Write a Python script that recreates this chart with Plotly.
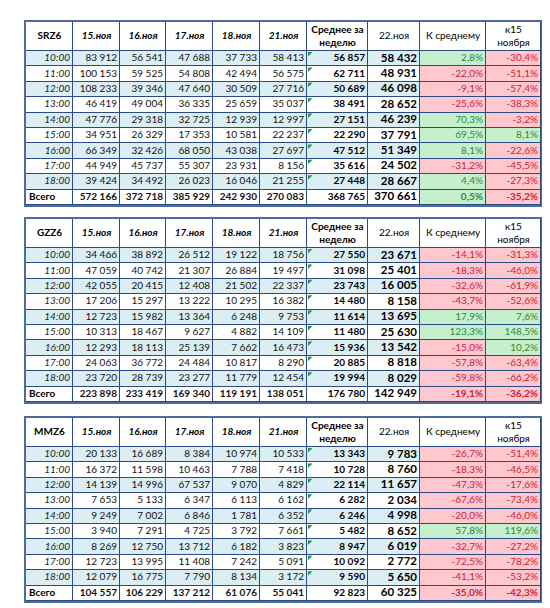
import plotly.graph_objects as go

# ---------------- data ----------------
hours = ["10:00", "11:00", "12:00", "13:00", "14:00", "15:00", "16:00", "17:00", "18:00"]
total_label = "Всего"
day_labels = ["15.ноя", "16.ноя", "17.ноя", "18.ноя", "21.ноя"]
avg_label = "Среднее за<br>неделю"
today_label = "22.ноя"
pct_labels = ["К среднему", "к15<br>ноября"]

tickers = ["SRZ6", "GZZ6", "MMZ6"]

srz6_days = [
    [83912, 100153, 108233, 46419, 47776, 34951, 66349, 44949, 39424, 572166],
    [56541, 59525, 39346, 49004, 29318, 26329, 32426, 45737, 34492, 372718],
    [47688, 54808, 47640, 36335, 32725, 17353, 68050, 55307, 26023, 385929],
    [37733, 42494, 30509, 25659, 12939, 10581, 43038, 23931, 16046, 242930],
    [58413, 56575, 27716, 35037, 12997, 22237, 27697, 8156, 21255, 270083],
]
srz6_avg = [56857, 62711, 50689, 38491, 27151, 22290, 47512, 35616, 27448, 368765]
srz6_today = [58432, 48931, 46098, 28652, 46239, 37791, 51349, 24502, 28667, 370661]
srz6_vs_avg = [2.8, -22.0, -9.1, -25.6, 70.3, 69.5, 8.1, -31.2, 4.4, 0.5]
srz6_vs_15 = [-30.4, -51.1, -57.4, -38.3, -3.2, 8.1, -22.6, -45.5, -27.3, -35.2]

gzz6_days = [
    [34466, 47059, 42055, 17206, 12723, 10313, 12293, 24063, 23720, 223898],
    [38892, 40742, 20415, 15297, 15982, 18467, 18113, 36772, 28739, 233419],
    [26512, 21307, 12408, 13222, 13364, 9627, 25139, 24484, 23277, 169340],
    [19122, 26884, 21502, 10295, 6248, 4882, 7662, 10817, 11779, 119191],
    [18756, 19497, 22337, 16382, 9753, 14109, 16473, 8290, 12454, 138051],
]
gzz6_avg = [27550, 31098, 23743, 14480, 11614, 11480, 15936, 20885, 19994, 176780]
gzz6_today = [23671, 25401, 16005, 8158, 13695, 25630, 13542, 8818, 8029, 142949]
gzz6_vs_avg = [-14.1, -18.3, -32.6, -43.7, 17.9, 123.3, -15.0, -57.8, -59.8, -19.1]
gzz6_vs_15 = [-31.3, -46.0, -61.9, -52.6, 7.6, 148.5, 10.2, -63.4, -66.2, -36.2]

mmz6_days = [
    [20133, 16372, 14139, 7653, 9249, 3940, 8269, 12723, 12079, 104557],
    [16689, 11598, 14996, 5133, 7002, 7291, 12750, 13995, 16775, 106229],
    [8384, 10463, 67537, 6347, 6846, 4725, 13712, 11408, 7790, 137212],
    [10974, 7788, 9070, 6113, 1781, 3792, 6182, 7242, 8134, 61076],
    [10533, 7418, 4829, 6162, 6352, 7661, 3823, 5091, 3172, 55041],
]
mmz6_avg = [13343, 10728, 22114, 6282, 6246, 5482, 8947, 10092, 9590, 92823]
mmz6_today = [9783, 8760, 11657, 2034, 4998, 8652, 6019, 2772, 5650, 60325]
mmz6_vs_avg = [-26.7, -18.3, -47.3, -67.6, -20.0, 57.8, -32.7, -72.5, -41.1, -35.0]
mmz6_vs_15 = [-51.4, -46.5, -17.6, -73.4, -46.0, 119.6, -27.2, -78.2, -53.2, -42.3]

# ---------------- styling ----------------
W, H = 550, 608
X0 = 18
TOPS = [14, 211, 410]
HEADER_H = 29
ROW_H = 15.4
col_widths = [47, 47, 46, 47, 47, 47, 61, 52, 66, 55]
LINE = "#2c4a86"
FRAME = "#4f6a9c"
WHITE, BLUE, GOOD_BG, BAD_BG = "#ffffff", "#dbeef4", "#c6efce", "#ffc7ce"
GOOD_FG, BAD_FG = "#2f8a3a", "#cc2236"
FONT = "Lato, Carlito, sans-serif"
FS = 10
NB = "\u00a0"

x_edges = [0]
for w in col_widths:
    x_edges.append(x_edges[-1] + w)
TW = x_edges[-1]
n_rows = len(hours) + 1
y_edges = [0, HEADER_H] + [HEADER_H + ROW_H * (i + 1) for i in range(n_rows)]
TH = y_edges[-1]


def fmt_int(v):
    return f"{v:,}".replace(",", NB)


def fmt_pct(v):
    return f"{v:.1f}%".replace(".", ",")


fig = go.Figure()


def add_table(k, ticker, days, avg, today, vs_avg, vs_15, top):
    ax = "" if k == 0 else str(k + 1)
    xa, ya = "x" + ax, "y" + ax

    # colour codes: 0 white, 1 blue, 2 green, 3 red
    z = [[0] * len(col_widths)]
    for i in range(n_rows):
        base = 1 if (i % 2 == 0 and i < n_rows - 1) else 0
        row = [base] * 8
        row.append(2 if vs_avg[i] >= 0 else 3)
        row.append(2 if vs_15[i] >= 0 else 3)
        z.append(row)
    fig.add_trace(go.Heatmap(
        x=x_edges, y=y_edges, z=z, xaxis=xa, yaxis=ya,
        zmin=0, zmax=3, showscale=False, xgap=1, ygap=1, hoverinfo="skip",
        colorscale=[[0, WHITE], [1 / 3, WHITE], [1 / 3, BLUE], [2 / 3, BLUE],
                    [2 / 3, GOOD_BG], [0.999, GOOD_BG], [0.999, BAD_BG], [1, BAD_BG]],
    ))

    tx, ty, tt, tp, tc, tsz = [], [], [], [], [], []

    def put(col, row, text, pos, color="#000000", size=FS):
        if pos == "c":
            x = (x_edges[col] + x_edges[col + 1]) / 2
            p = "middle center"
        elif pos == "l":
            x = x_edges[col] + 3
            p = "middle right"
        else:
            x = x_edges[col + 1] - 3
            p = "middle left"
        y = (y_edges[row] + y_edges[row + 1]) / 2
        tx.append(x); ty.append(y); tt.append(text); tp.append(p); tc.append(color); tsz.append(size)

    # header
    put(0, 0, f"<b>{ticker}</b>", "c")
    for j, d in enumerate(day_labels):
        put(j + 1, 0, f"<b><i>{d}</i></b>", "c")
    put(6, 0, f"<b>{avg_label}</b>", "c")
    put(7, 0, today_label, "c")
    put(8, 0, pct_labels[0], "c")
    put(9, 0, pct_labels[1], "c")

    for i in range(n_rows):
        r = i + 1
        last = i == n_rows - 1
        if last:
            put(0, r, f"<b>{total_label}</b>", "l")
        else:
            put(0, r, f"<i>{hours[i]}</i>", "r", "#222222")
        for j, d in enumerate(days):
            s = fmt_int(d[i])
            put(j + 1, r, f"<b>{s}</b>" if last else s, "r", "#111111")
        put(6, r, f"<b>{fmt_int(avg[i])}</b>", "r")
        put(7, r, f"<b>{fmt_int(today[i])}</b>", "r", "#000000", 11.5)
        for j, p in enumerate((vs_avg, vs_15)):
            s = fmt_pct(p[i])
            put(8 + j, r, f"<b>{s}</b>" if last else s, "r", GOOD_FG if p[i] >= 0 else BAD_FG)

    fig.add_trace(go.Scatter(
        x=tx, y=ty, text=tt, mode="text", textposition=tp, xaxis=xa, yaxis=ya,
        textfont=dict(family=FONT, size=tsz, color=tc), hoverinfo="skip", showlegend=False,
    ))

    # small green indicator triangles in the weekly-average column
    fig.add_trace(go.Scatter(
        x=[x_edges[6] + 2.5] * (n_rows - 1),
        y=[y_edges[i + 1] + 2.5 for i in range(n_rows - 1)],
        mode="markers", marker=dict(symbol="triangle-nw", size=5, color="#1f9a3a", line=dict(width=0)),
        xaxis=xa, yaxis=ya, hoverinfo="skip", showlegend=False,
    ))

    axis_common = dict(showgrid=False, zeroline=False, showticklabels=False, ticks="",
                       showline=True, mirror=True, linecolor=FRAME, linewidth=2, fixedrange=True)
    fig.layout["xaxis" + ax] = dict(axis_common, range=[0, TW], anchor=ya,
                                    domain=[X0 / W, (X0 + TW) / W])
    fig.layout["yaxis" + ax] = dict(axis_common, range=[TH, 0], anchor=xa,
                                    domain=[1 - (top + TH) / H, 1 - top / H])


specs = [
    (tickers[0], srz6_days, srz6_avg, srz6_today, srz6_vs_avg, srz6_vs_15),
    (tickers[1], gzz6_days, gzz6_avg, gzz6_today, gzz6_vs_avg, gzz6_vs_15),
    (tickers[2], mmz6_days, mmz6_avg, mmz6_today, mmz6_vs_avg, mmz6_vs_15),
]
for k, (spec, top) in enumerate(zip(specs, TOPS)):
    add_table(k, *spec, top)

fig.update_layout(
    width=W, height=H,
    margin=dict(l=0, r=0, t=0, b=0),
    paper_bgcolor="white",
    plot_bgcolor=LINE,
    showlegend=False,
)
fig.write_html("out.html")
